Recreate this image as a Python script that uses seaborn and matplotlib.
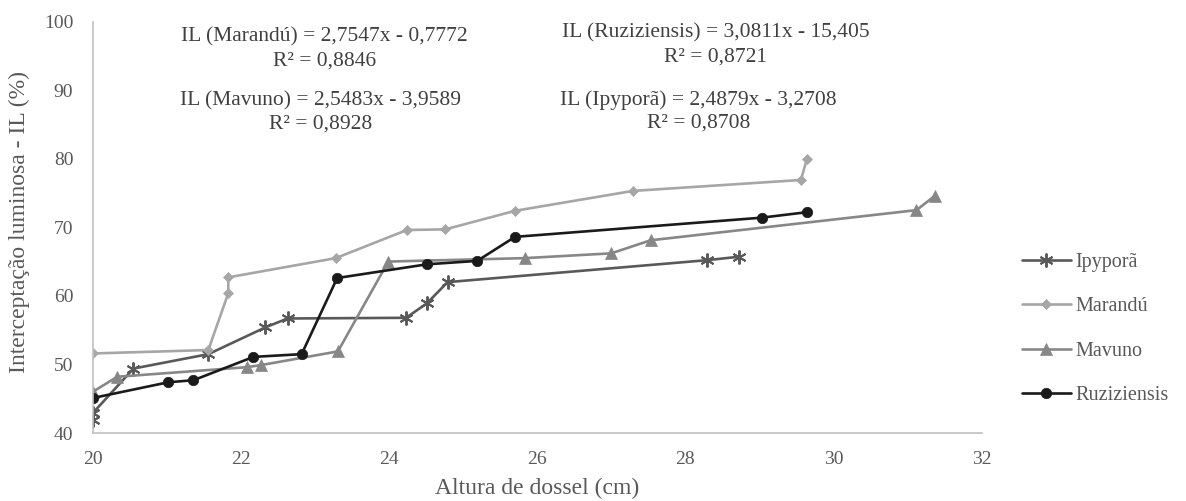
import matplotlib
matplotlib.use("Agg")
import matplotlib.pyplot as plt
import seaborn as sns
import pandas as pd

# ---- data ----
ipypora_x = [20.0, 20.0, 20.55, 21.56, 22.33, 22.63, 24.23, 24.51, 24.79, 28.29, 28.72]
ipypora_y = [41.9, 42.9, 49.4, 51.5, 55.4, 56.7, 56.8, 58.9, 62.0, 65.2, 65.7]

marandu_x = [20.0, 21.56, 21.83, 21.83, 23.28, 24.24, 24.76, 25.70, 27.29, 29.56, 29.64]
marandu_y = [51.6, 52.1, 60.4, 62.7, 65.5, 69.6, 69.7, 72.4, 75.3, 76.9, 79.9]

mavuno_x = [20.0, 20.33, 22.08, 22.27, 23.31, 23.99, 25.83, 27.0, 27.53, 31.12, 31.37]
mavuno_y = [46.0, 48.2, 49.6, 49.9, 51.9, 65.0, 65.5, 66.2, 68.1, 72.5, 74.6]

ruzi_x = [20.0, 21.02, 21.36, 22.17, 22.82, 23.30, 24.51, 25.19, 25.70, 29.03, 29.64]
ruzi_y = [45.1, 47.4, 47.7, 51.1, 51.5, 62.6, 64.6, 65.1, 68.6, 71.4, 72.2]

series_names = ["Ipyporã", "Marandú", "Mavuno", "Ruziziensis"]
x_ticks = [20, 22, 24, 26, 28, 30, 32]
y_ticks = [40, 50, 60, 70, 80, 90, 100]

equations = [
    ("IL (Marandú) = 2,7547x - 0,7772", "R² = 0,8846", 23.13, 97.7, 94.2),
    ("IL (Ruziziensis) = 3,0811x - 15,405", "R² = 0,8721", 28.41, 98.3, 94.8),
    ("IL (Mavuno) = 2,5483x - 3,9589", "R² = 0,8928", 23.08, 88.5, 85.0),
    ("IL (Ipyporã) = 2,4879x - 3,2708", "R² = 0,8708", 28.18, 88.6, 85.2),
]

frames = []
for name, xs, ys in zip(series_names,
                        [ipypora_x, marandu_x, mavuno_x, ruzi_x],
                        [ipypora_y, marandu_y, mavuno_y, ruzi_y]):
    frames.append(pd.DataFrame({"x": xs, "y": ys, "serie": name}))
df = pd.concat(frames, ignore_index=True)

styles = {
    "Ipyporã": dict(color="#595959", marker=(6, 2, 0), markersize=10, mew=1.4),
    "Marandú": dict(color="#a6a6a6", marker="D", markersize=5.5, mew=0.5),
    "Mavuno": dict(color="#878787", marker="^", markersize=8, mew=0.5),
    "Ruziziensis": dict(color="#1a1a1a", marker="o", markersize=7.5, mew=0.5),
}

sns.set_theme(style="white")
plt.rcParams["font.family"] = ["Liberation Serif", "DejaVu Serif"]

fig = plt.figure(figsize=(11.86, 5.01), dpi=100)
ax = fig.add_axes([0.0782, 0.1357, 0.7495, 0.8213])

for name in series_names:
    st = styles[name]
    sub = df[df["serie"] == name]
    sns.lineplot(data=sub, x="x", y="y", ax=ax, sort=False, estimator=None,
                 color=st["color"], marker=st["marker"], markersize=st["markersize"],
                 markeredgecolor=st["color"], markerfacecolor=st["color"],
                 markeredgewidth=st["mew"], linewidth=1.9, label=name)

ax.set_xlim(20, 32)
ax.set_ylim(40, 100)
ax.set_xticks(x_ticks)
ax.set_yticks(y_ticks)
ax.set_xticklabels([str(t) for t in x_ticks])
ax.set_yticklabels([str(t) for t in y_ticks])
ax.tick_params(axis="both", length=0, labelsize=14, labelcolor="#595959")
ax.tick_params(axis="x", pad=13)
ax.tick_params(axis="y", pad=14)

for s in ["top", "right"]:
    ax.spines[s].set_visible(False)
for s in ["left", "bottom"]:
    ax.spines[s].set_color("#c0c0c0")
    ax.spines[s].set_linewidth(1.2)
ax.grid(False)

ax.set_xlabel("Altura de dossel (cm)", fontsize=17, color="#595959")
ax.set_ylabel("Interceptação luminosa - IL (%)", fontsize=17, color="#595959")
ax.xaxis.set_label_coords(0.5, -0.11)
ax.yaxis.set_label_coords(-0.071, 0.513)

for eq, r2, xc, y1, y2 in equations:
    ax.text(xc, y1, eq, ha="center", va="center", fontsize=15.5, color="#404040")
    ax.text(xc, y2, r2, ha="center", va="center", fontsize=15.5, color="#404040")

leg = ax.legend(loc="upper left", bbox_to_anchor=(0.862, 0.495),
                bbox_transform=fig.transFigure, frameon=False, fontsize=14.5,
                handlelength=2.4, handletextpad=0.25, labelspacing=1.25,
                borderpad=0, borderaxespad=0)
for t in leg.get_texts():
    t.set_color("#595959")

fig.savefig("out.png", dpi=100)
